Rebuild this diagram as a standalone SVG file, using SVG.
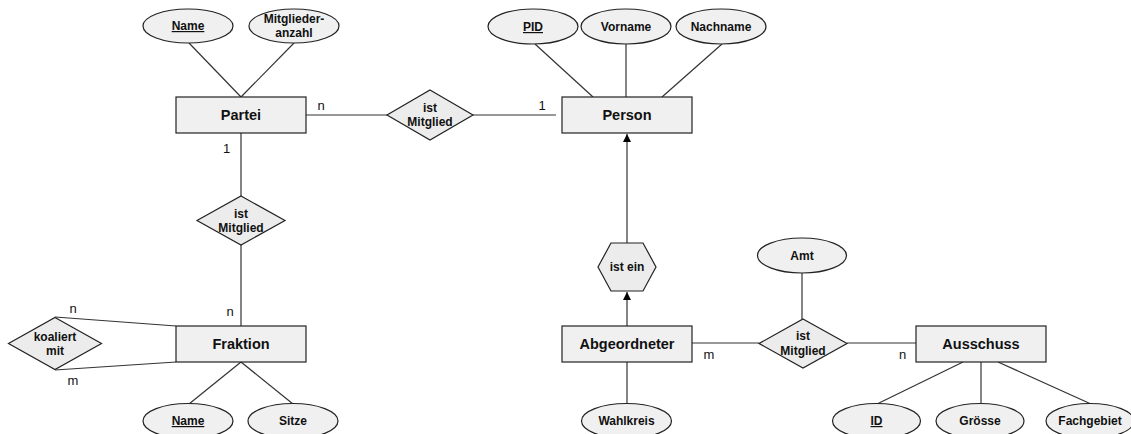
<svg xmlns="http://www.w3.org/2000/svg" width="1131" height="434" viewBox="0 0 1131 434">
<defs>
<marker id="arr" markerUnits="userSpaceOnUse" markerWidth="9" markerHeight="9" refX="8" refY="4" orient="auto">
<path d="M0,0 L8,4 L0,8 z" fill="#000"/>
</marker>
<style>
.ent{fill:#f0f0f0;stroke:#222;stroke-width:1.2}
.att{fill:#f0f0f0;stroke:#222;stroke-width:1.2}
.rel{fill:#ececec;stroke:#222;stroke-width:1.2}
.ln{stroke:#333;stroke-width:1.2;fill:none}
text{font-family:"Liberation Sans",Arial,sans-serif;fill:#111;text-anchor:middle}
.et{font-size:14.5px;font-weight:bold}
.at{font-size:12px;font-weight:bold}
.key{text-decoration:underline}
.card{font-size:13px}
</style>
</defs>
<rect width="1131" height="434" fill="#fff"/>
<g id="connectors">
<line class="ln" x1="189" y1="43" x2="241" y2="97"/>
<line class="ln" x1="294" y1="43" x2="241" y2="97"/>
<line class="ln" x1="306" y1="115" x2="387" y2="115"/>
<line class="ln" x1="473" y1="115" x2="556" y2="115"/>
<line class="ln" x1="535" y1="44" x2="593" y2="97"/>
<line class="ln" x1="626" y1="44" x2="626" y2="97"/>
<line class="ln" x1="722" y1="44" x2="662" y2="97"/>
<line class="ln" x1="241" y1="133" x2="241" y2="196"/>
<line class="ln" x1="241" y1="245" x2="241" y2="326"/>
<line class="ln" x1="55" y1="317" x2="176" y2="326"/>
<line class="ln" x1="55" y1="370" x2="176" y2="362"/>
<line class="ln" x1="241" y1="362" x2="189" y2="404"/>
<line class="ln" x1="241" y1="362" x2="293" y2="404"/>
<line class="ln" x1="627" y1="243" x2="627" y2="134" marker-end="url(#arr)"/>
<line class="ln" x1="627" y1="326" x2="627" y2="292" marker-end="url(#arr)"/>
<line class="ln" x1="627" y1="362" x2="627" y2="404"/>
<line class="ln" x1="692" y1="343" x2="759" y2="343"/>
<line class="ln" x1="802" y1="273" x2="802" y2="319"/>
<line class="ln" x1="847" y1="343" x2="916" y2="343"/>
<line class="ln" x1="963" y1="362" x2="877" y2="404"/>
<line class="ln" x1="981" y1="362" x2="981" y2="404"/>
<line class="ln" x1="998" y1="362" x2="1091" y2="404"/>
<text class="card" x="321" y="110">n</text>
<text class="card" x="542" y="109.5">1</text>
<text class="card" x="226.5" y="153">1</text>
<text class="card" x="230" y="316">n</text>
<text class="card" x="73" y="312.5">n</text>
<text class="card" x="73" y="385">m</text>
<text class="card" x="709" y="359">m</text>
<text class="card" x="902.5" y="359">n</text>
</g>
<g id="partei-name"><ellipse class="att" cx="188" cy="26" rx="45" ry="17"/><text class="at key" x="188" y="30">Name</text></g>
<g id="partei-mitgliederanzahl"><ellipse class="att" cx="294" cy="26" rx="45" ry="17"/><text class="at" x="294" y="23">Mitglieder-</text><text class="at" x="294" y="37">anzahl</text></g>
<g id="partei"><rect class="ent" x="176" y="97" width="130" height="36"/><text class="et" x="241" y="120">Partei</text></g>
<g id="rel-partei-person"><polygon class="rel" points="430,90 473,115 430,140 387,115"/><text class="at" x="430" y="111.5">ist</text><text class="at" x="430" y="126">Mitglied</text></g>
<g id="person-pid"><ellipse class="att" cx="533" cy="26.5" rx="45" ry="17.5"/><text class="at key" x="533" y="31">PID</text></g>
<g id="person-vorname"><ellipse class="att" cx="626" cy="26.5" rx="45" ry="17.5"/><text class="at" x="626" y="31">Vorname</text></g>
<g id="person-nachname"><ellipse class="att" cx="721" cy="26.5" rx="45" ry="17.5"/><text class="at" x="721" y="31">Nachname</text></g>
<g id="person"><rect class="ent" x="562" y="97" width="130" height="36"/><text class="et" x="627" y="120">Person</text></g>
<g id="rel-partei-fraktion"><polygon class="rel" points="241,196 285,220.5 241,245 197,220.5"/><text class="at" x="241" y="217.5">ist</text><text class="at" x="241" y="232">Mitglied</text></g>
<g id="fraktion"><rect class="ent" x="176" y="326" width="130" height="36"/><text class="et" x="241" y="349">Fraktion</text></g>
<g id="rel-koaliert"><polygon class="rel" points="55,317.5 101.5,343.5 55,369.5 8.5,343.5"/><text class="at" x="55" y="341">koaliert</text><text class="at" x="55" y="355">mit</text></g>
<g id="fraktion-name"><ellipse class="att" cx="188" cy="421" rx="45" ry="17.5"/><text class="at key" x="188" y="425">Name</text></g>
<g id="fraktion-sitze"><ellipse class="att" cx="293" cy="421" rx="45" ry="17.5"/><text class="at" x="293" y="425">Sitze</text></g>
<g id="ist-ein"><polygon class="rel" points="611,243 643,243 656,267 643,291 611,291 598,267"/><text class="at" x="627" y="271">ist ein</text></g>
<g id="abgeordneter"><rect class="ent" x="562" y="326" width="130" height="36"/><text class="et" x="627" y="349">Abgeordneter</text></g>
<g id="abgeordneter-wahlkreis"><ellipse class="att" cx="626.5" cy="421" rx="45" ry="17.5"/><text class="at" x="626.5" y="425">Wahlkreis</text></g>
<g id="amt"><ellipse class="att" cx="802" cy="255.5" rx="44.5" ry="17.5"/><text class="at" x="802" y="260">Amt</text></g>
<g id="rel-abg-ausschuss"><polygon class="rel" points="803,319 847,343.5 803,368 759,343.5"/><text class="at" x="803" y="340">ist</text><text class="at" x="803" y="354.5">Mitglied</text></g>
<g id="ausschuss"><rect class="ent" x="916" y="326" width="130" height="36"/><text class="et" x="981" y="349">Ausschuss</text></g>
<g id="ausschuss-id"><ellipse class="att" cx="876.5" cy="421" rx="44" ry="17.5"/><text class="at key" x="876.5" y="425">ID</text></g>
<g id="ausschuss-groesse"><ellipse class="att" cx="980" cy="421" rx="44" ry="17.5"/><text class="at" x="980" y="425">Grösse</text></g>
<g id="ausschuss-fachgebiet"><ellipse class="att" cx="1090" cy="421" rx="44" ry="17.5"/><text class="at" x="1090" y="425">Fachgebiet</text></g>
</svg>
